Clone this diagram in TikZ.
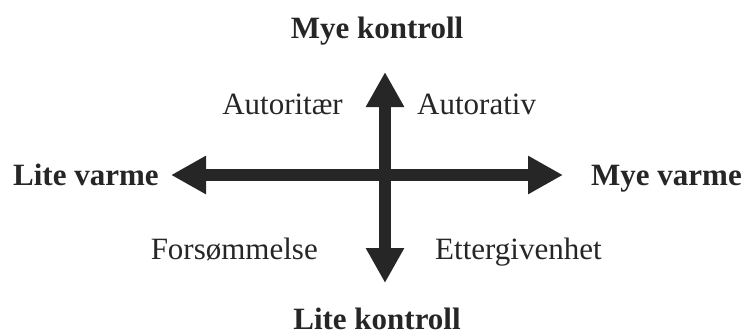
\documentclass[tikz,border=0pt]{standalone}
\usepackage{fontspec}
\setmainfont{Liberation Serif}
\usepackage{xcolor}
\usetikzlibrary{arrows.meta,positioning}
\definecolor{axisgray}{HTML}{262626}
\tikzset{
  axis/.style={line width=12pt, color=axisgray, -{Triangle[length=35pt,width=36pt]}},
  pole/.style={anchor=base, inner sep=0pt, font=\fontsize{31}{36}\selectfont\bfseries, text=axisgray},
  style/.style={anchor=base, inner sep=0pt, font=\fontsize{31}{36}\selectfont, text=axisgray}
}
\begin{document}
\begin{tikzpicture}[x=1pt, y=-1pt]
	\useasboundingbox (0,0) rectangle (747,335);
	\coordinate (c) at (385,175);
	\coordinate (w) at (171,175);
	\coordinate (e) at (563,175);
	\coordinate (n) at (385,72);
	\coordinate (s) at (385,283);
	\draw [axis] (c) -- (w);
	\draw [axis] (c) -- (e);
	\draw [axis] (c) -- (n);
	\draw [axis] (c) -- (s);
	\node [pole] (mk) at (377,38) {Mye kontroll};
	\node [pole] (lk) at (377,329) {Lite kontroll};
	\node [pole, anchor=base west] (lv) at (13,185) {Lite varme};
	\node [pole, anchor=base east] (mv) at (742,185) {Mye varme};
	\node [style, anchor=base east] (aut) at (343,114) {Autoritær};
	\node [style, anchor=base west] (atv) at (417,114) {Autorativ};
	\node [style, anchor=base east] (fors) at (318,259) {Forsømmelse};
	\node [style, anchor=base west] (etter) at (435,259) {Ettergivenhet};
\end{tikzpicture}
\end{document}
